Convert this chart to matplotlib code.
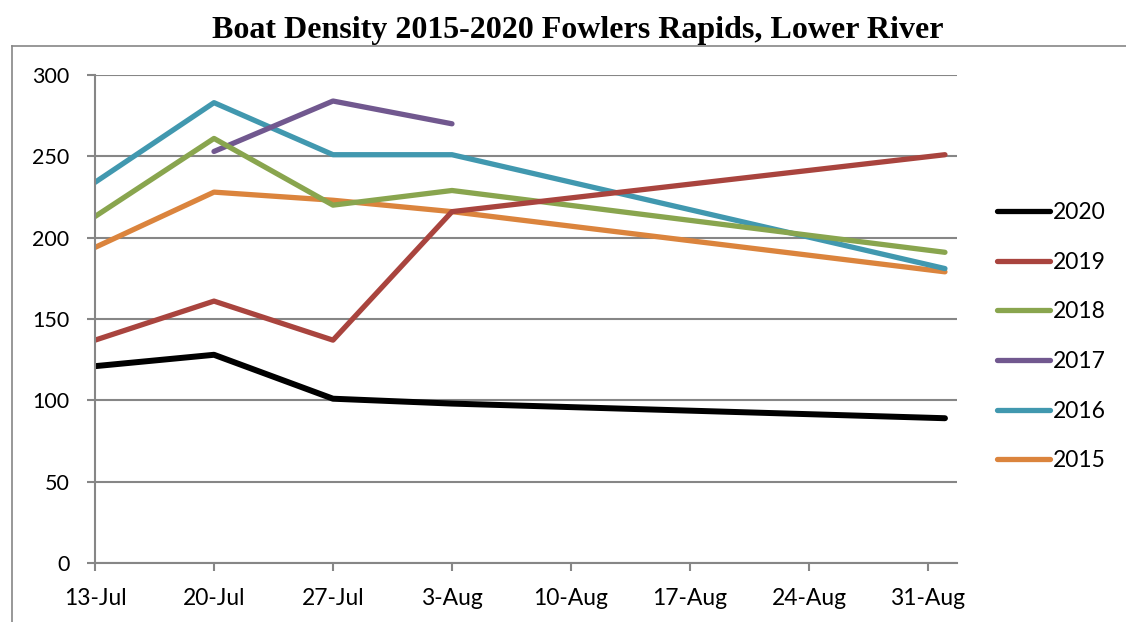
import matplotlib
matplotlib.use("Agg")
import matplotlib.pyplot as plt
import matplotlib.dates as mdates
from matplotlib.lines import Line2D
import numpy as np

# survey dates (same calendar days each year)
dates = np.array(["2020-07-13", "2020-07-20", "2020-07-27", "2020-08-03", "2020-09-01"],
                 dtype="datetime64[D]")

y2020 = [121, 128, 101, 98, 89]
y2019 = [137, 161, 137, 216, 251]
y2018 = [213, 261, 220, 229, 191]
y2017 = [np.nan, 253, 284, 270, np.nan]
y2016 = [234, 283, 251, 251, 181]
y2015 = [194, 228, 223, 216, 179]

series = [
    ("2020", y2020, "#000000"),
    ("2019", y2019, "#A9443E"),
    ("2018", y2018, "#89A54E"),
    ("2017", y2017, "#71588F"),
    ("2016", y2016, "#4198AF"),
    ("2015", y2015, "#DB843D"),
]

tick_dates = np.arange(np.datetime64("2020-07-13"), np.datetime64("2020-09-01"), 7)

plt.rcParams["font.family"] = ["Lato", "DejaVu Sans"]
grey = "#868686"

fig = plt.figure(figsize=(11.26, 6.22), dpi=100)
ax = fig.add_axes([95 / 1126, 1 - 563 / 622, (957 - 95) / 1126, (563 - 75) / 622])

# draw in reverse so 2020 ends up on top
for name, vals, col in reversed(series):
    lw = 4.3 if name == "2020" else 3.8
    ax.plot(dates, vals, color=col, lw=lw, solid_capstyle="round",
            solid_joinstyle="round", label=name)

ax.set_ylim(0, 300)
ax.set_yticks(range(0, 301, 50))
ax.set_xlim(np.datetime64("2020-07-13"), np.datetime64("2020-07-13") + np.timedelta64(50, "D") + np.timedelta64(17, "h"))
ax.set_xticks(tick_dates)
ax.xaxis.set_major_formatter(mdates.DateFormatter("%-d-%b"))

ax.grid(axis="y", color=grey, lw=1.5)
ax.set_axisbelow(True)
for s in ["top", "right"]:
    ax.spines[s].set_visible(False)
for s in ["left", "bottom"]:
    ax.spines[s].set_color(grey)
    ax.spines[s].set_linewidth(1.5)
ax.tick_params(axis="y", direction="out", length=5.5, width=1.5, color=grey,
               labelsize=15.5, pad=13)
ax.tick_params(axis="x", direction="out", length=6, width=1.5, color=grey,
               labelsize=16.5, pad=12)

# legend, reorder to 2020 first
handles, labels = ax.get_legend_handles_labels()
handles, labels = handles[::-1], labels[::-1]
leg = fig.legend(handles, labels, loc="upper left",
                 bbox_to_anchor=(997 / 1126, 1 - 202 / 622),
                 frameon=False, fontsize=16.5, borderpad=0, borderaxespad=0,
                 handlelength=2.3, handletextpad=0.15, labelspacing=1.25)
for line in leg.get_lines():
    line.set_linewidth(3.8)
    line.set_solid_capstyle("round")

# chart border (partially cropped)
fig.add_artist(Line2D([12 / 1126, 12 / 1126], [0, 1 - 46 / 622], color=grey, lw=1.2))
fig.add_artist(Line2D([12 / 1126, 1], [1 - 46 / 622, 1 - 46 / 622], color=grey, lw=1.2))

fig.text(578 / 1126, 1 - 38 / 622, "Boat Density 2015-2020 Fowlers Rapids, Lower River",
         ha="center", va="baseline", fontsize=23, fontweight="bold",
         family=["Liberation Serif", "DejaVu Serif"])

fig.savefig("out.png", dpi=100)
